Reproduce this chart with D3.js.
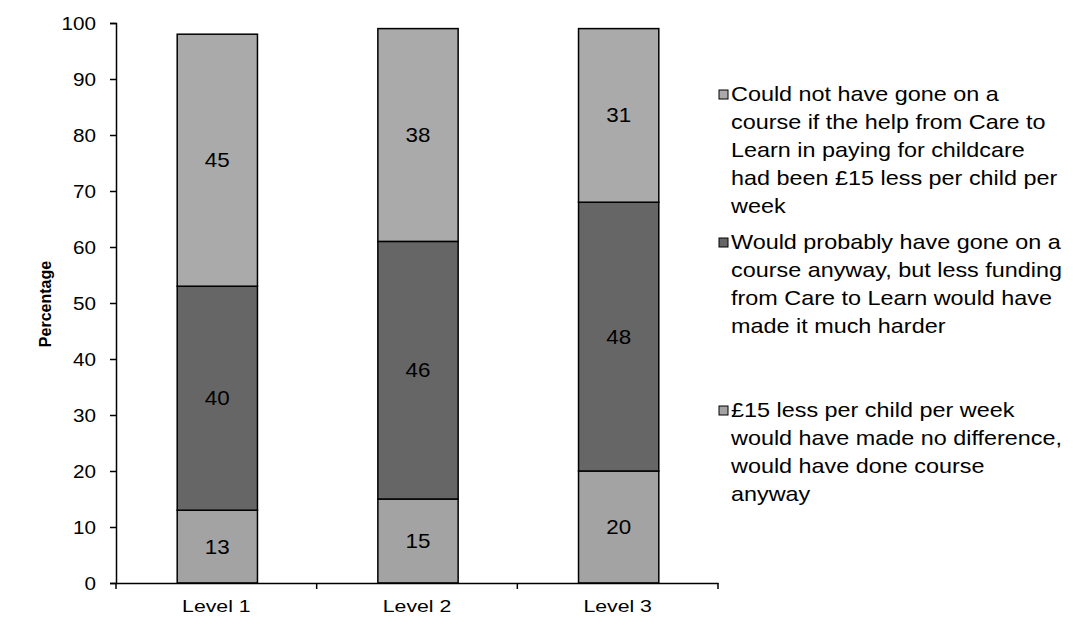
<!DOCTYPE html>
<html>
<head>
<meta charset="utf-8">
<script src="https://cdn.jsdelivr.net/npm/d3@7"></script>
<style>
  body { margin: 0; background: #fff; }
  svg { display: block; font-family: Arial, "Liberation Sans", sans-serif; }
</style>
</head>
<body>
<svg id="chart" width="1073" height="628"></svg>
<script>
const categories = ["Level 1", "Level 2", "Level 3"];
const seriesNames = [
  "£15 less per child per week would have made no difference, would have done course anyway",
  "Would probably have gone on a course anyway, but less funding from Care to Learn would have made it much harder",
  "Could not have gone on a course if the help from Care to Learn in paying for childcare had been £15 less per child per week"
];
const noDifference = [13, 15, 20];
const muchHarder = [40, 46, 48];
const couldNot = [45, 38, 31];
const yTicks = [0, 10, 20, 30, 40, 50, 60, 70, 80, 90, 100];
const legendLines = [
  ["Could not have gone on a", "course if the help from Care to", "Learn in paying for childcare", "had been £15 less per child per", "week"],
  ["Would probably have gone on a", "course anyway, but less funding", "from Care to Learn would have", "made it much harder"],
  ["£15 less per child per week", "would have made no difference,", "would have done course", "anyway"]
];
const colors = ["#a3a3a3", "#666666", "#aaaaaa"];

(function () {
const svg = d3.select("#chart");
const mLeft = 116, mRight = 718, mTop = 23, mBottom = 583;

// stretch text horizontally around its anchor point
function stretch(sel, sx) {
  sel.each(function () {
    const t = d3.select(this);
    const x0 = +t.attr("x") || 0, y0 = +t.attr("y") || 0;
    t.attr("transform", `translate(${x0},${y0}) scale(${sx},1) translate(${-x0},${-y0})`);
  });
}

const x = d3.scaleBand().domain(categories).range([mLeft, mRight]).padding(0);
const y = d3.scaleLinear().domain([0, 100]).range([mBottom, mTop]);

const data = categories.map((c, i) => ({ cat: c, s0: noDifference[i], s1: muchHarder[i], s2: couldNot[i] }));
const stack = d3.stack().keys(["s0", "s1", "s2"]);
const layers = stack(data);

const barW = x.bandwidth() * 0.4;

const g = svg.append("g");
layers.forEach((layer, li) => {
  g.selectAll(null).data(layer).enter().append("rect")
    .attr("x", d => x(d.data.cat) + (x.bandwidth() - barW) / 2 + 1)
    .attr("y", d => y(d[1]))
    .attr("width", barW)
    .attr("height", d => y(d[0]) - y(d[1]))
    .attr("fill", colors[li])
    .attr("stroke", "#000")
    .attr("stroke-width", 1.5);
  const lbl = g.selectAll(null).data(layer).enter().append("text")
    .attr("x", d => x(d.data.cat) + x.bandwidth() / 2 + 1)
    .attr("y", d => (y(d[0]) + y(d[1])) / 2 + 7)
    .attr("text-anchor", "middle")
    .attr("font-size", 20)
    .attr("fill", "#000")
    .text(d => d[1] - d[0]);
  stretch(lbl, 1.12);
});

// y axis
const yAxis = d3.axisLeft(y).tickValues(yTicks).tickSize(6).tickPadding(14);
const ya = svg.append("g").attr("transform", `translate(${mLeft},0)`).call(yAxis);
ya.select(".domain").attr("stroke", "#000").attr("stroke-width", 1.5);
ya.selectAll(".tick line").attr("stroke", "#000").attr("stroke-width", 1.5);
ya.selectAll(".tick text").attr("font-size", 18).attr("font-family", "Arial, 'Liberation Sans', sans-serif").attr("fill", "#000").attr("dy", "0.36em");
stretch(ya.selectAll(".tick text"), 1.15);

// x axis
const xAxis = d3.axisBottom(x).tickSize(0).tickPadding(17);
const xa = svg.append("g").attr("transform", `translate(0,${mBottom})`).call(xAxis);
xa.select(".domain").attr("stroke", "#000").attr("stroke-width", 1.5);
xa.selectAll(".tick text").attr("font-size", 17).attr("font-family", "Arial, 'Liberation Sans', sans-serif").attr("fill", "#000");
stretch(xa.selectAll(".tick text"), 1.25);
const bounds = categories.map(c => x(c)).concat([x(categories[categories.length - 1]) + x.bandwidth()]);
xa.selectAll(".bound").data(bounds).enter().append("line")
  .attr("x1", d => d).attr("x2", d => d).attr("y1", 0).attr("y2", 6)
  .attr("stroke", "#000").attr("stroke-width", 1.5);

// y title
svg.append("text")
  .attr("transform", `translate(51,${(mTop + mBottom) / 2 + 1}) rotate(-90)`)
  .attr("text-anchor", "middle")
  .attr("font-size", 16)
  .attr("font-weight", "bold")
  .text("Percentage");

// legend
const legendTops = [101, 249, 417];
const legendColors = [colors[2], colors[1], colors[0]];
legendLines.forEach((lines, i) => {
  const lg = svg.append("g");
  lg.append("rect")
    .attr("x", 719).attr("y", legendTops[i] - 11)
    .attr("width", 9).attr("height", 9)
    .attr("fill", legendColors[i]).attr("stroke", "#000").attr("stroke-width", 1);
  const tx = lg.selectAll("text").data(lines).enter().append("text")
    .attr("x", 731)
    .attr("y", (d, j) => legendTops[i] + j * 28)
    .attr("font-size", 20)
    .attr("fill", "#000")
    .text(d => d);
  stretch(tx, 1.17);
});
})();
</script>
</body>
</html>
